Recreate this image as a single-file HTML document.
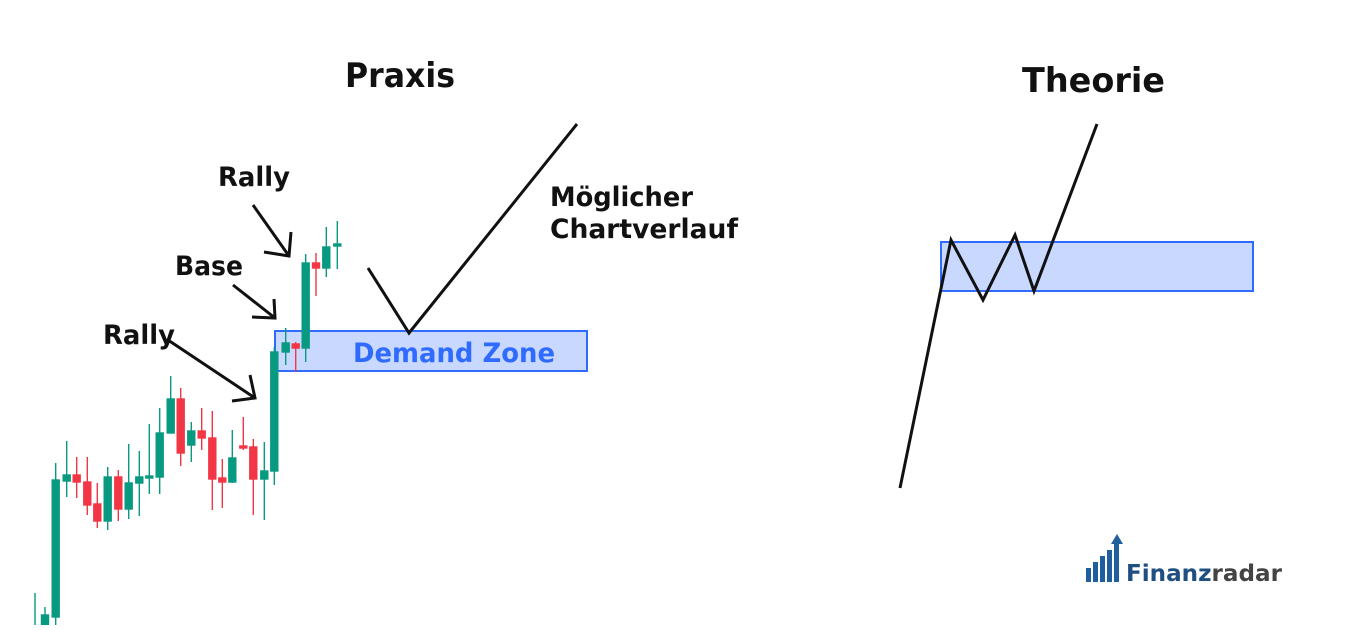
<!DOCTYPE html><html><head><meta charset="utf-8"><style>
body{margin:0;width:1350px;height:625px;background:#fff;overflow:hidden}
svg text{font-family:"DejaVu Sans","Liberation Sans",sans-serif;font-weight:bold}
</style></head><body>
<svg width="1350" height="625" viewBox="0 0 1350 625">
<rect x="275" y="331" width="312" height="40" fill="rgba(41,98,255,0.25)" stroke="#2f6bff" stroke-width="2"/>
<g stroke-width="1.4">
<g stroke="#089981" fill="#089981">
<line x1="35" y1="593" x2="35" y2="625"/>
<line x1="45" y1="607" x2="45" y2="625"/><rect x="41.5" y="615" width="7" height="10"/>
<line x1="55.7" y1="463" x2="55.7" y2="625"/><rect x="52.2" y="480" width="7" height="137"/>
<line x1="66.7" y1="441" x2="66.7" y2="497"/><rect x="63.2" y="475" width="7" height="6"/>
<line x1="107.7" y1="467" x2="107.7" y2="530"/><rect x="104.2" y="477" width="7" height="44"/>
<line x1="128.7" y1="444" x2="128.7" y2="519"/><rect x="125.2" y="483" width="7" height="26"/>
<line x1="139.3" y1="451" x2="139.3" y2="516"/><rect x="135.8" y="477" width="7" height="6"/>
<line x1="149.3" y1="424" x2="149.3" y2="494"/><rect x="145.8" y="476" width="7" height="2"/>
<line x1="159.7" y1="408" x2="159.7" y2="494"/><rect x="156.2" y="433" width="7" height="44"/>
<line x1="170.7" y1="376" x2="170.7" y2="433"/><rect x="167.2" y="399" width="7" height="34"/>
<line x1="191.3" y1="422" x2="191.3" y2="462"/><rect x="187.8" y="431" width="7" height="14"/>
<line x1="232.3" y1="430" x2="232.3" y2="483"/><rect x="228.8" y="458" width="7" height="24"/>
<line x1="264.3" y1="442" x2="264.3" y2="520"/><rect x="260.8" y="471" width="7" height="8"/>
<line x1="274.3" y1="347" x2="274.3" y2="485"/><rect x="270.8" y="352" width="7" height="119"/>
<line x1="285.7" y1="328" x2="285.7" y2="365"/><rect x="282.2" y="343" width="7" height="9"/>
<line x1="305.7" y1="254" x2="305.7" y2="362"/><rect x="302.2" y="263" width="7" height="85"/>
<line x1="326.3" y1="227" x2="326.3" y2="277"/><rect x="322.8" y="247" width="7" height="21"/>
<line x1="337.3" y1="221" x2="337.3" y2="269"/><rect x="333.8" y="244" width="7" height="2"/>
</g>
<g stroke="#f23645" fill="#f23645">
<line x1="76.7" y1="457" x2="76.7" y2="498"/><rect x="73.2" y="475" width="7" height="7"/>
<line x1="87.3" y1="457" x2="87.3" y2="515"/><rect x="83.8" y="482" width="7" height="23"/>
<line x1="97.3" y1="483" x2="97.3" y2="528"/><rect x="93.8" y="504" width="7" height="17"/>
<line x1="118.3" y1="470" x2="118.3" y2="521"/><rect x="114.8" y="477" width="7" height="32"/>
<line x1="180.7" y1="388" x2="180.7" y2="466"/><rect x="177.2" y="399" width="7" height="54"/>
<line x1="201.7" y1="408" x2="201.7" y2="450"/><rect x="198.2" y="431" width="7" height="7"/>
<line x1="212.3" y1="411" x2="212.3" y2="510"/><rect x="208.8" y="438" width="7" height="41"/>
<line x1="222.3" y1="459" x2="222.3" y2="508"/><rect x="218.8" y="478" width="7" height="4"/>
<line x1="243.3" y1="417" x2="243.3" y2="450"/><rect x="239.8" y="446" width="7" height="2"/>
<line x1="253.3" y1="439" x2="253.3" y2="515"/><rect x="249.8" y="447" width="7" height="32"/>
<line x1="295.7" y1="342" x2="295.7" y2="372"/><rect x="292.2" y="344" width="7" height="4"/>
<line x1="316" y1="253" x2="316" y2="296"/><rect x="312.5" y="263" width="7" height="5"/>
</g>
</g>
<rect x="941" y="242" width="312" height="49" fill="rgba(41,98,255,0.25)" stroke="#2f6bff" stroke-width="2"/>
<g fill="none" stroke="#111" stroke-width="3" stroke-linejoin="miter">
<polyline points="368,268 409,333 577,124"/>
<polyline points="900,488 951,240 983,300 1015,235 1034,291 1097,124"/>
<line x1="253" y1="205" x2="289" y2="256"/><polyline points="264,252 289,256 291,232"/>
<line x1="233" y1="285" x2="275" y2="318"/><polyline points="252,317 275,318 274,299"/>
<line x1="168" y1="340" x2="255" y2="398"/><polyline points="232,401 255,398 250,375"/>
</g>
<g fill="#111">
<text x="345" y="87" font-size="34" textLength="110" lengthAdjust="spacingAndGlyphs">Praxis</text>
<text x="1022" y="92" font-size="34" textLength="143" lengthAdjust="spacingAndGlyphs">Theorie</text>
<text x="218" y="186" font-size="27" textLength="72" lengthAdjust="spacingAndGlyphs">Rally</text>
<text x="175" y="275" font-size="27" textLength="68" lengthAdjust="spacingAndGlyphs">Base</text>
<text x="103" y="344" font-size="27" textLength="72" lengthAdjust="spacingAndGlyphs">Rally</text>
<text x="550" y="206" font-size="27" textLength="143" lengthAdjust="spacingAndGlyphs">Möglicher</text>
<text x="550" y="238" font-size="27" textLength="188" lengthAdjust="spacingAndGlyphs">Chartverlauf</text>
</g>
<text x="353" y="362" font-size="27" fill="#2f6bff" textLength="202" lengthAdjust="spacingAndGlyphs">Demand Zone</text>
<g fill="#1f5f9e">
<rect x="1086" y="568" width="5" height="14"/><rect x="1093" y="562" width="5" height="20"/><rect x="1100" y="556" width="5" height="26"/><rect x="1107" y="550" width="5" height="32"/><rect x="1114" y="544" width="5" height="38"/>
<polygon points="1117,534 1123,544 1111,544"/>
</g>
<text x="1126" y="581" font-size="23" fill="#1f4f80" textLength="156" lengthAdjust="spacingAndGlyphs">Finanz<tspan fill="#444">radar</tspan></text>
</svg></body></html>
